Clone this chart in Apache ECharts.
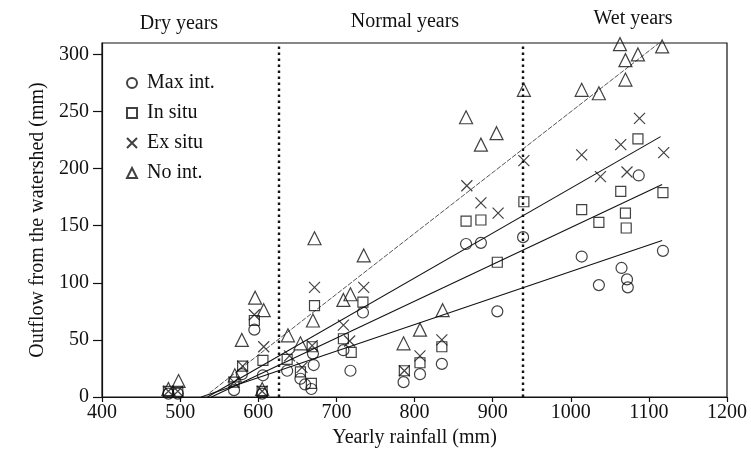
<!DOCTYPE html>
<html><head><meta charset="utf-8">
<script src="https://cdn.jsdelivr.net/npm/echarts@6/dist/echarts.min.js"></script>
<style>html,body{margin:0;padding:0;background:#fff}#c{width:751px;height:455px}</style>
</head><body><div id="c"></div>
<script>
const seriesNames = ['Max int.', 'In situ', 'Ex situ', 'No int.'];
// [yearly rainfall (mm), outflow (mm)]
const maxInt = [[485,3],[497,3],[569,6],[579,20],[595,59],[606,19],[605,3],[637,23],[654,16],[660,11],[668,7],[670,38],[671,28],[709,41],[718,23],[734,74],[786,13],[807,20],[835,29],[866,134],[885,135],[906,75],[939,140],[1014,123],[1036,98],[1065,113],[1072,103],[1073,96],[1087,194],[1118,128]];
const inSitu = [[485,5],[497,5],[569,13],[580,27],[595,67],[606,32],[605,5],[637,33],[654,22],[668,12],[669,44],[672,80],[709,51],[719,39],[734,83],[787,23],[807,30],[835,44],[866,154],[885,155],[906,118],[940,171],[1014,164],[1036,153],[1064,180],[1070,161],[1071,148],[1086,226],[1118,179]];
const exSitu = [[485,5],[497,5],[569,13],[580,27],[595,72],[607,44],[605,5],[640,36],[656,26],[669,45],[672,96],[709,63],[717,49],[735,96],[787,23],[807,36],[835,50],[867,185],[885,170],[907,161],[940,207],[1014,212],[1038,193],[1064,221],[1072,197],[1088,244],[1119,214]];
const noInt = [[485,7],[498,14],[570,19],[579,50],[596,87],[607,76],[605,7],[638,54],[654,47],[670,67],[672,139],[709,85],[718,90],[735,124],[786,47],[807,59],[836,76],[866,245],[885,221],[905,231],[940,269],[1014,269],[1036,266],[1063,309],[1070,295],[1070,278],[1086,300],[1117,307]];
// fitted lines (start, end)
const fitMaxInt = [[527,0],[1117,137]];
const fitInSitu = [[540,0],[1117,186]];
const fitExSitu = [[535,0],[1115,228]];
const fitNoInt = [[531,0],[1115,311]];
const periodBounds = [626, 938];
const periodLabels = ['Dry years', 'Normal years', 'Wet years'];

const FONT = '"Liberation Serif", "Times New Roman", serif';
const chart = echarts.init(document.getElementById('c'), null, {renderer: 'canvas'});
const hollow = {color: 'rgba(0,0,0,0)', borderColor: '#111', borderWidth: 1.2};
const crossPath = 'path://M0,0L10,10M10,0L0,10';

function scatter(name, data, symbol, size) {
  return {name, type: 'scatter', data, symbol, symbolSize: size, itemStyle: hollow, z: 3, silent: true};
}
function fit(data, style) {
  return {type: 'line', data, symbol: 'none', lineStyle: style, silent: true, z: 2, legendHoverLink: false};
}

chart.setOption({
  animation: false,
  backgroundColor: '#fff',
  grid: {left: 102, right: 24, top: 43, bottom: 58, show: true, borderColor: '#111', borderWidth: 1.2, backgroundColor: 'transparent'},
  xAxis: {
    type: 'value', min: 400, max: 1200, interval: 100,
    name: 'Yearly rainfall (mm)', nameLocation: 'middle', nameGap: 31,
    nameTextStyle: {fontFamily: FONT, fontSize: 20, color: '#111'},
    axisLine: {lineStyle: {color: '#111', width: 1.2}},
    axisTick: {inside: false, length: 5, lineStyle: {color: '#111', width: 1.2}},
    axisLabel: {fontFamily: FONT, fontSize: 20, color: '#111', margin: 6, formatter: v => String(v)},
    splitLine: {show: false}
  },
  yAxis: {
    type: 'value', min: 0, max: 310, interval: 50,
    name: 'Outflow from the watershed (mm)', nameLocation: 'middle', nameGap: 52,
    nameTextStyle: {fontFamily: FONT, fontSize: 20, color: '#111'},
    axisLine: {show: true, lineStyle: {color: '#111', width: 1.2}},
    axisTick: {show: true, inside: false, length: 9, lineStyle: {color: '#111', width: 1.2}},
    axisLabel: {fontFamily: FONT, fontSize: 20, color: '#111', margin: 13, showMaxLabel: false, formatter: v => String(v)},
    splitLine: {show: false}
  },
  legend: {
    orient: 'vertical', left: 121, top: 68, itemWidth: 10, itemHeight: 10, itemGap: 10,
    data: seriesNames,
    textStyle: {fontFamily: FONT, fontSize: 20, color: '#111', padding: [0, 0, 0, 5]},
    selectedMode: false
  },
  graphic: [
    {type: 'text', style: {text: periodLabels[0], font: '20px ' + FONT, fill: '#111', x: 179, y: 24, align: 'center', verticalAlign: 'middle'}},
    {type: 'text', style: {text: periodLabels[1], font: '20px ' + FONT, fill: '#111', x: 405, y: 22, align: 'center', verticalAlign: 'middle'}},
    {type: 'text', style: {text: periodLabels[2], font: '20px ' + FONT, fill: '#111', x: 633, y: 19, align: 'center', verticalAlign: 'middle'}}
  ],
  series: [
    scatter(seriesNames[0], maxInt, 'circle', 11),
    scatter(seriesNames[1], inSitu, 'rect', 10),
    scatter(seriesNames[2], exSitu, crossPath, 11),
    scatter(seriesNames[3], noInt, 'triangle', 13),
    fit(fitMaxInt, {color: '#111', width: 1.1}),
    fit(fitInSitu, {color: '#111', width: 1.1}),
    fit(fitExSitu, {color: '#111', width: 1.1}),
    fit(fitNoInt, {color: '#555', width: 1, type: [5, 1.5]}),
    {
      type: 'line', data: [], silent: true,
      markLine: {
        symbol: 'none', silent: true, label: {show: false},
        lineStyle: {color: '#111', width: 2.4, type: [2.5, 3.5]},
        data: periodBounds.map(v => ({xAxis: v}))
      }
    }
  ]
});
</script></body></html>
